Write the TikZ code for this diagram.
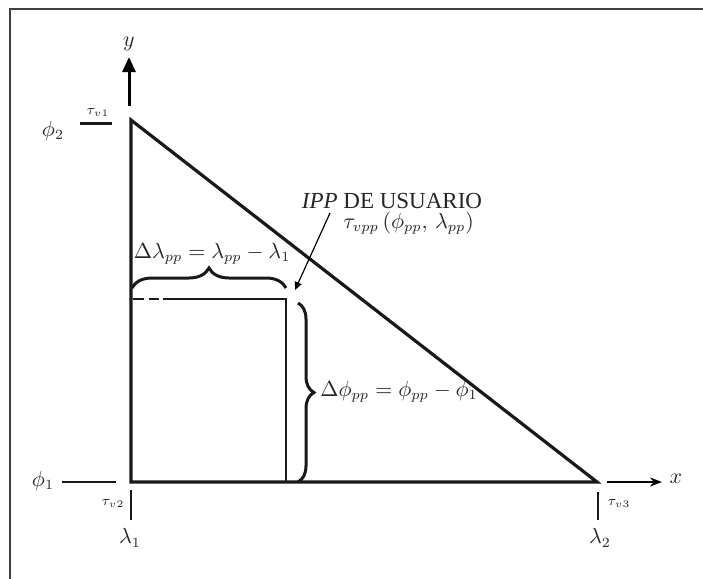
\documentclass[tikz,border=0pt]{standalone}
\usepackage{fontspec}
\setmainfont{Liberation Serif}
\usepackage{tikz}
\usetikzlibrary{positioning,arrows.meta,decorations.pathreplacing,calc}

\begin{document}
\begin{tikzpicture}[x=0.5pt,y=-0.5pt,
    axisline/.style={line width=1.6pt,black!90},
    rectline/.style={line width=1.1pt,black!90},
    tickline/.style={line width=1.2pt,black!90},
    bracebar/.style={line width=1.5pt,black!90,decorate,decoration={brace,amplitude=#1}},
    lbl/.style={font=\fontsize{10.5}{12}\selectfont,inner sep=0pt,text=black!85},
    ticklbl/.style={font=\fontsize{7.5}{9}\selectfont,inner sep=0pt,text=black!85}]
    \fill[white] (0,0) rectangle (703,579);
    \path[use as bounding box] (0,0) rectangle (703,579);
    % frame
    \draw[line width=1pt,black!75] (10,579) -- (10,9) -- (703,9);
    % triangle
    \coordinate (apex) at (131,120);
    \coordinate (orig) at (131,482);
    \coordinate (corner) at (597,482);
    \draw[axisline] (apex) -- (corner) -- (orig) -- cycle;
    % axes
    \coordinate (ybase) at (129,106);
    \coordinate (ytip) at (129,57);
    \draw[line width=1.5pt,-{Triangle[length=7.5pt,width=6.5pt]}] (ybase) -- (ytip);
    \node[lbl] (ylbl) at (129,44) {$y$};
    \coordinate (xbase) at (607,482);
    \coordinate (xtip) at (662,482);
    \draw[line width=1pt,-{Stealth[length=6pt,width=4.5pt]}] (xbase) -- (xtip);
    \node[lbl] (xlbl) at (676,479) {$x$};
    % ticks and tick labels
    \node[lbl] (phitwo) at (53,131) {$\phi_2$};
    \draw[tickline,line width=1.5pt] (80,123) -- (112,123);
    \node[ticklbl] (tvone) at (98,112) {$\tau_{v1}$};
    \node[lbl] (phione) at (43,481) {$\phi_1$};
    \draw[tickline,line width=1pt] (62,482) -- (116,482);
    \node[ticklbl] (tvtwo) at (113,503) {$\tau_{v2}$};
    \draw[tickline] (131,490) -- (131,520);
    \node[lbl] (lamone) at (130,538) {$\lambda_1$};
    \node[ticklbl] (tvthree) at (619,503) {$\tau_{v3}$};
    \draw[tickline] (598,492) -- (598,520);
    \node[lbl] (lamtwo) at (600,538) {$\lambda_2$};
    % user rectangle
    \draw[rectline] (133,299) -- (144,299) (149,299) -- (159,299);
    \draw[rectline] (163,299) -- (286,299) -- (286,482);
    % braces
    \draw[bracebar=10pt] (132,288) -- (286,288);
    \node[lbl] (dlam) at (212,254) {$\Delta\lambda_{pp} = \lambda_{pp} - \lambda_1$};
    \draw[bracebar=8pt] (298,303) -- (298,482);
    \node[lbl,anchor=west] (dphi) at (320,392) {$\Delta\phi_{pp} = \phi_{pp} - \phi_1$};
    % user point label
    \node[lbl,font=\fontsize{11.5}{13}\selectfont] (ipp) at (392,201) {\textit{IPP} DE USUARIO};
    \node[lbl,anchor=west] (tvpp) at (343,223) {$\tau_{vpp}\,(\phi_{pp},\,\lambda_{pp})$};
    \coordinate (arrstart) at (330,213);
    \coordinate (ipppt) at (295,290);
    \draw[line width=0.6pt,-{Triangle[length=4pt,width=3.5pt]}] (arrstart) -- (ipppt);
  \end{tikzpicture}
\end{document}
